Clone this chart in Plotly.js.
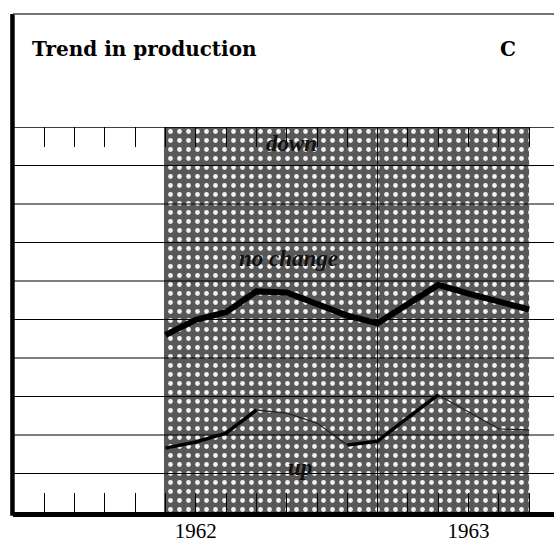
<!DOCTYPE html>
<html>
<head>
<meta charset="utf-8">
<script src="https://cdn.plot.ly/plotly-3.0.1.min.js"></script>
<style>html,body{margin:0;padding:0;background:#fff;}#chart{width:554px;height:545px;}</style>
</head>
<body>
<div id="chart"></div>
<script>
// ---- data (months counted from January 1962 = 0) ----
const months = [5, 6, 7, 8, 9, 10, 11, 12, 13, 14, 15, 16, 17];
const upperLine = [46.0, 49.9, 51.9, 57.3, 57.0, 54.2, 51.0, 49.0, 54.2, 59.0, 56.7, 54.6, 52.6];
const lowerLine = [16.6, 18.2, 20.5, 26.5, 25.7, 23.1, 17.4, 18.4, 24.5, 30.4, 26.0, 21.6, 21.3];
const surveyPeriod = [4.95, 17.0];
const yearStart1963 = 12;
const yearTickPos = [6, 15];
const yearTickText = ['1962', '1963'];
const zoneLabels = ['down', 'no change', 'up'];
const zoneLabelX = [9.15, 9.05, 9.45];
const zoneLabelY = [95.8, 65.8, 11.5];

const traces = [];
// shaded survey period
traces.push({
  x: [surveyPeriod[0], surveyPeriod[0], surveyPeriod[1], surveyPeriod[1]],
  y: [0, 100, 100, 0],
  type: 'scatter', mode: 'lines', fill: 'toself',
  line: {width: 0, color: 'rgba(0,0,0,0)'},
  fillcolor: '#5a5a5a',
  fillpattern: {shape: '.', bgcolor: '#585858', fgcolor: '#f2f2f2', size: 9, solidity: 0.22, fillmode: 'replace'},
  hoverinfo: 'skip', showlegend: false
});
// upper line
traces.push({x: months, y: upperLine, type: 'scatter', mode: 'lines',
  line: {color: '#000', width: 6}, showlegend: false});
// lower line: thick and faint segments
const segs = [[0, 3, 3.5], [3, 6, 1.3], [6, 9, 3.5], [9, 12, 1.3]];
segs.forEach(s => {
  traces.push({x: months.slice(s[0], s[1] + 1), y: lowerLine.slice(s[0], s[1] + 1),
    type: 'scatter', mode: 'lines', line: {color: s[2] > 2 ? '#000' : '#222', width: s[2]}, showlegend: false});
});
// dummy for top axis
traces.push({x: [surveyPeriod[0]], y: [50], xaxis: 'x2', type: 'scatter', mode: 'markers',
  marker: {opacity: 0}, hoverinfo: 'skip', showlegend: false});

const xr = [-0.033, -0.033 + 541 / 30.3];
const shapes = [];
for (let v = 10; v <= 100; v += 10) {
  shapes.push({type: 'line', xref: 'paper', yref: 'y', x0: 0, x1: 1, y0: v, y1: v,
    line: {color: '#000', width: v === 100 ? 1.6 : 1.2}, layer: 'above'});
}
shapes.push({type: 'line', xref: 'x', yref: 'paper', x0: yearStart1963, x1: yearStart1963, y0: 0, y1: 1,
  line: {color: '#000', width: 1}, layer: 'above'});
// left frame and top frame
shapes.push({type: 'line', xref: 'paper', yref: 'paper', x0: -0.001, x1: -0.001, y0: -0.01, y1: 1.2935,
  line: {color: '#000', width: 4.5}, layer: 'above'});
shapes.push({type: 'line', xref: 'paper', yref: 'paper', x0: 0, x1: 1, y0: 1.2935, y1: 1.2935,
  line: {color: '#444', width: 1.5}, layer: 'above'});

const annotations = zoneLabels.map((t, i) => ({
  text: t, x: zoneLabelX[i], y: zoneLabelY[i], xref: 'x', yref: 'y', showarrow: false,
  font: {family: 'Liberation Serif, serif', size: 23, color: '#111', style: 'italic', weight: 'bold'}
}));
annotations.push({text: 'C', xref: 'paper', yref: 'paper', x: (498 - 13) / 541, y: (512 - 49) / 385,
  xanchor: 'left', yanchor: 'middle', showarrow: false,
  font: {family: 'DejaVu Serif, serif', size: 20, color: '#000', weight: 'bold'}});

const layout = {
  width: 554, height: 545,
  margin: {l: 13, r: 0, t: 127, b: 33},
  paper_bgcolor: '#fff', plot_bgcolor: '#fff',
  title: {text: 'Trend in production', xref: 'container', yref: 'container',
    x: 32 / 554, xanchor: 'left', y: 1 - 49 / 545, yanchor: 'middle',
    font: {family: 'DejaVu Serif, serif', size: 20, color: '#000', weight: 'bold'}},
  xaxis: {range: xr, showgrid: false, zeroline: false, showline: true, linecolor: '#000', linewidth: 4.5,
    tickmode: 'array', tickvals: yearTickPos, ticktext: yearTickText,
    ticks: 'inside', ticklen: 19, tickwidth: 1, tickcolor: '#000', ticklabelstandoff: -4,
    minor: {tick0: 0, dtick: 1, ticks: 'inside', ticklen: 19, tickwidth: 1, tickcolor: '#000', showgrid: false},
    tickfont: {family: 'Liberation Serif, serif', size: 21, color: '#000'},
    layer: 'above traces', fixedrange: true},
  xaxis2: {range: xr, overlaying: 'x', side: 'top', anchor: 'y', showgrid: false, zeroline: false,
    showline: false, tickmode: 'linear', tick0: 0, dtick: 1, ticks: 'inside', ticklen: 20,
    tickwidth: 1, tickcolor: '#000', showticklabels: false, layer: 'above traces', fixedrange: true},
  yaxis: {range: [0, 100], showgrid: false, zeroline: false, showline: false, showticklabels: false,
    ticks: '', fixedrange: true},
  shapes: shapes, annotations: annotations, showlegend: false
};
Plotly.newPlot('chart', traces, layout, {displayModeBar: false, staticPlot: true});
</script>
</body>
</html>
